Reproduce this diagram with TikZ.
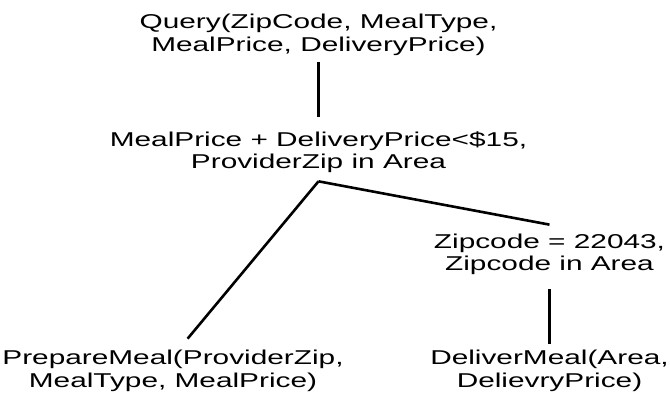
\documentclass[tikz,border=0pt]{standalone}
\usepackage{fontspec}
\setmainfont{Liberation Sans}[FakeStretch=1.49]
\begin{document}
\begin{tikzpicture}[x=1pt,y=-1pt]
		\tikzset{op/.style = {align=center,inner sep=0pt,font=\fontsize{20}{22.5}\selectfont}}
		\tikzset{edge/.style = {line width=2.6pt}}
		\tikzset{stem/.style = {line width=3.4pt}}
		\useasboundingbox (0,0) rectangle (670,399);
		% operators
		\node[op] (query) at (318.5, 34.7) {Query(ZipCode, MealType,\\MealPrice, DeliveryPrice)};
		\node[op] (cond) at (318.5, 152) {MealPrice + DeliveryPrice<\$15,\\ProviderZip in Area};
		\node[op] (zip) at (549.5, 254.4) {Zipcode = 22043,\\Zipcode in Area};
		\node[op] (prep) at (173, 371) {PrepareMeal(ProviderZip,\\MealType, MealPrice)};
		\node[op] (deliv) at (549.5, 371) {DeliverMeal(Area,\\DelievryPrice)};
		\coordinate (fork) at ([yshift=-8.4pt]cond.south);
		% edges
		\draw[stem, shorten <=6.6pt, shorten >=14pt] (query) -- (cond);
		\draw[edge, shorten >=15pt] (fork) -- ([xshift=5pt]prep.north);
		\draw[edge] (fork) -- ([yshift=9pt]zip.north);
		\draw[stem, shorten <=14pt, shorten >=6.6pt] (zip) -- (deliv);
\end{tikzpicture}
\end{document}
